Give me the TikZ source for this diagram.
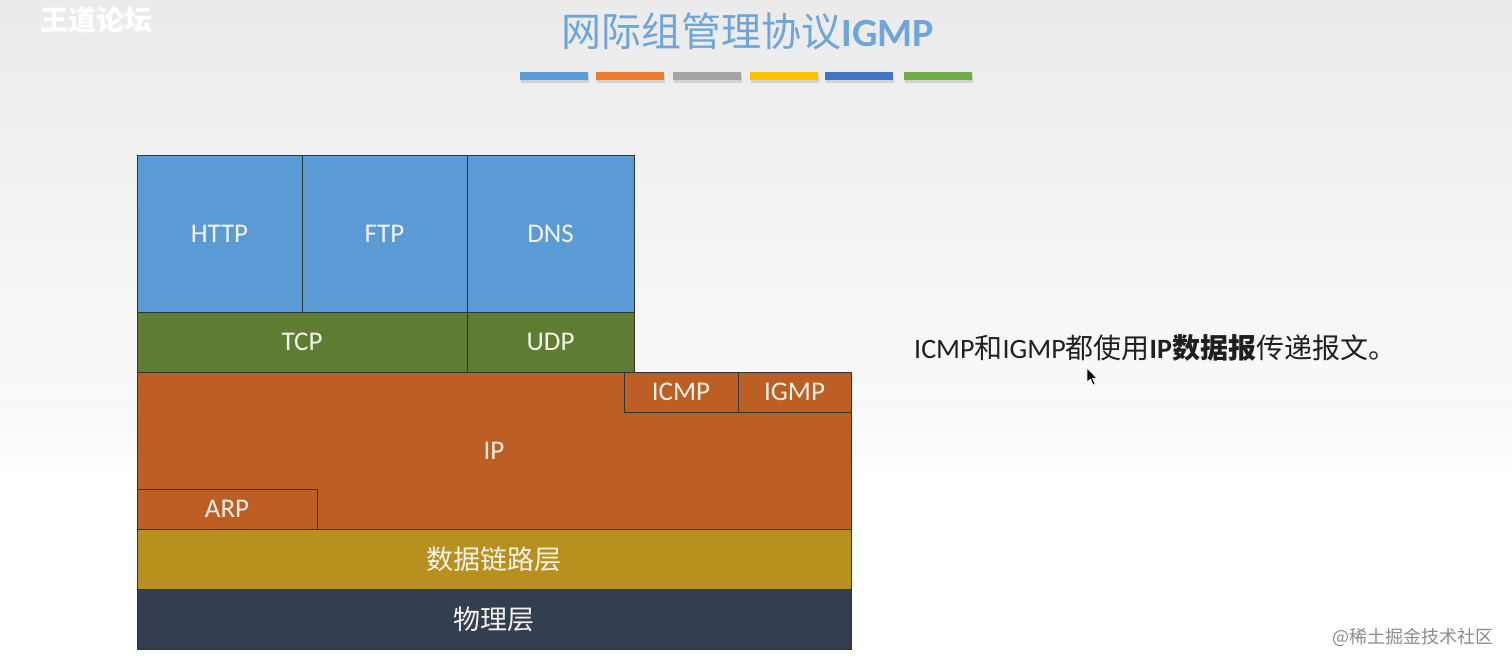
\documentclass[tikz,border=0pt]{standalone}
\usepackage{fontspec}
\setmainfont{Carlito}
\newfontfamily\cjk{Noto Sans CJK SC}
\definecolor{appblue}{HTML}{5B9BD5}
\definecolor{tpgreen}{HTML}{5E7D33}
\definecolor{iporange}{HTML}{BD5E24}
\definecolor{dlgold}{HTML}{B8901E}
\definecolor{physlate}{HTML}{333F50}
\definecolor{titleblue}{HTML}{6FA6DA}
\definecolor{barA}{HTML}{5B9BD5}
\definecolor{barB}{HTML}{ED7D31}
\definecolor{barC}{HTML}{A5A5A5}
\definecolor{barD}{HTML}{FFC000}
\definecolor{barE}{HTML}{4472C4}
\definecolor{barF}{HTML}{70AD47}
\definecolor{labelwhite}{HTML}{F5F2EA}
\begin{document}
\begin{tikzpicture}[x=1pt,y=-1pt,
  layerbox/.style={draw=black!80, line width=0.8pt, inner sep=0pt, outer sep=0pt,
    text=labelwhite, font=\fontsize{27}{30}\selectfont},
  cjklabel/.style={font=\cjk\fontsize{27}{30}\selectfont},
  barshadow/.style={fill=black!18}]
\useasboundingbox (0,0) rectangle (1512,670);
\shade[top color=black!8, bottom color=white, middle color=black!3] (0,0) rectangle (1512,670);
\fill[white] (0,480) rectangle (1512,670);
\shade[top color=black!3, bottom color=white] (0,400) rectangle (1512,480);

% watermark
\node[text=white, font=\cjk\bfseries\fontsize{28}{30}\selectfont] (wm) at (96,20) {王道论坛};

% title
\node[text=titleblue, font=\fontsize{40}{44}\selectfont] (title) at (748,31)
  {{\cjk 网际组管理协议}\textbf{IGMP}};
\foreach \xa/\xb in {520/588,596/664,673/741,750/818,825/893,904/972}
  \fill[barshadow] (\xa+1,74) rectangle (\xb+1,82.5);
\fill[barA] (520,72) rectangle (588,80);
\fill[barB] (596,72) rectangle (664,80);
\fill[barC] (673,72) rectangle (741,80);
\fill[barD] (750,72) rectangle (818,80);
\fill[barE] (825,72) rectangle (893,80);
\fill[barF] (904,72) rectangle (972,80);

% application layer
\node[layerbox, fill=appblue, minimum width=165pt, minimum height=157pt] (http) at (219.5,233.5) {HTTP};
\node[layerbox, fill=appblue, minimum width=165pt, minimum height=157pt] (ftp) at (384.5,233.5) {FTP};
\node[layerbox, fill=appblue, minimum width=167pt, minimum height=157pt] (dns) at (550.5,233.5) {DNS};
% transport
\node[layerbox, fill=tpgreen, minimum width=330pt, minimum height=60pt] (tcp) at (302,342) {TCP};
\node[layerbox, fill=tpgreen, minimum width=167pt, minimum height=60pt] (udp) at (550.5,342) {UDP};
% network
\node[layerbox, fill=iporange, minimum width=714pt, minimum height=157pt] (ip) at (494,450.5) {IP};
\node[layerbox, fill=iporange, minimum width=114pt, minimum height=40pt] (icmp) at (681,392) {ICMP};
\node[layerbox, fill=iporange, minimum width=113pt, minimum height=40pt] (igmp) at (794.5,392) {IGMP};
\node[layerbox, fill=iporange, minimum width=180pt, minimum height=40pt] (arp) at (227,509) {ARP};
% link & physical
\node[layerbox, cjklabel, fill=dlgold, minimum width=714pt, minimum height=60pt] (dl) at (494,559) {数据链路层};
\node[layerbox, cjklabel, fill=physlate, minimum width=714pt, minimum height=60pt] (phy) at (494,619) {物理层};

% note
\node[anchor=west, text=black!88, font=\fontsize{28}{30}\selectfont, inner sep=0pt] (note) at (914,348)
  {ICMP{\cjk 和}IGMP{\cjk 都使用}\textbf{IP}{\cjk\bfseries 数据报}{\cjk 传递报文。}};

% mouse cursor
\filldraw[fill=black, draw=white, line width=0.6pt]
  (1087,368) -- (1087,382) -- (1090.5,379) -- (1093,385) -- (1095,384) -- (1092.5,378.5) -- (1097,378.5) -- cycle;

% credit
\node[anchor=east, text=black!45, font=\cjk\fontsize{18}{20}\selectfont, inner sep=0pt] (credit) at (1494,637) {@稀土掘金技术社区};
\end{tikzpicture}
\end{document}
